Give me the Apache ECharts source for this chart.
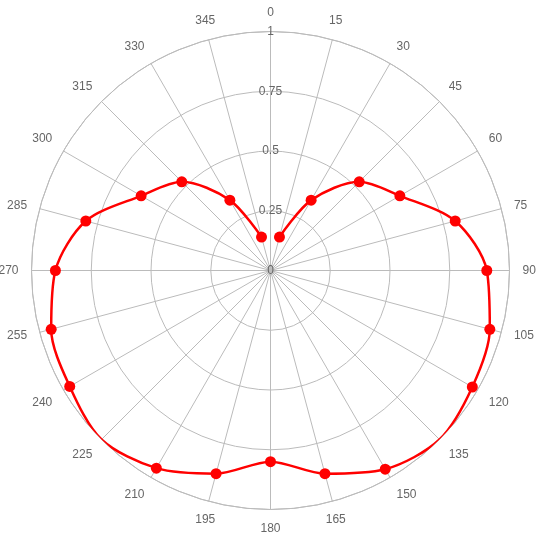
<!DOCTYPE html>
<html><head><meta charset="utf-8">
<script src="https://cdn.jsdelivr.net/npm/echarts@6/dist/echarts.min.js"></script>
<style>html,body{margin:0;padding:0;background:#fff}#c{width:544px;height:548px}</style>
</head><body><div id="c"></div>
<script>
const angles = [15,30,45,60,75,90,105,120,135,150,165,180,195,210,225,240,255,270,285,300,315,330,345];
const values = [0.145,0.34,0.525,0.625,0.80,0.905,0.95,0.975,1.0,0.96,0.88,0.80,0.88,0.955,1.0,0.97,0.95,0.90,0.80,0.625,0.525,0.34,0.145];
const radiusTicks = [0,0.25,0.5,0.75,1];

const chart = echarts.init(document.getElementById('c'));
chart.setOption({
  animation:false,
  polar:{center:[270.5,270.5],radius:239},
  angleAxis:{type:'value',min:0,max:360,interval:15,startAngle:90,clockwise:true,
    axisLine:{lineStyle:{color:'#bbb',width:1}},
    axisTick:{show:false},
    axisLabel:{margin:13,align:'center',verticalAlign:'middle',color:'#666',fontFamily:'Liberation Sans, Arial, sans-serif',fontSize:12,
      formatter:v=> v===360?'':String(v)},
    splitLine:{show:true,lineStyle:{color:'#bbb',width:1}}
  },
  radiusAxis:{type:'value',min:0,max:1,interval:0.25,
    axisLine:{show:false},axisTick:{show:false},
    axisLabel:{margin:0,align:'center',verticalAlign:'middle',color:'#666',fontFamily:'Liberation Sans, Arial, sans-serif',fontSize:12,
      formatter:v=> radiusTicks.indexOf(v)>=0?String(v):''},
    splitLine:{show:true,lineStyle:{color:'#bbb',width:1}}
  },
  series:[{type:'line',coordinateSystem:'polar',smooth:0.3,
    data:angles.map((a,i)=>[values[i],a]),
    symbol:'circle',symbolSize:11,
    lineStyle:{color:'#ff0000',width:2.5},
    itemStyle:{color:'#ff0000'}
  }]
});
</script></body></html>
